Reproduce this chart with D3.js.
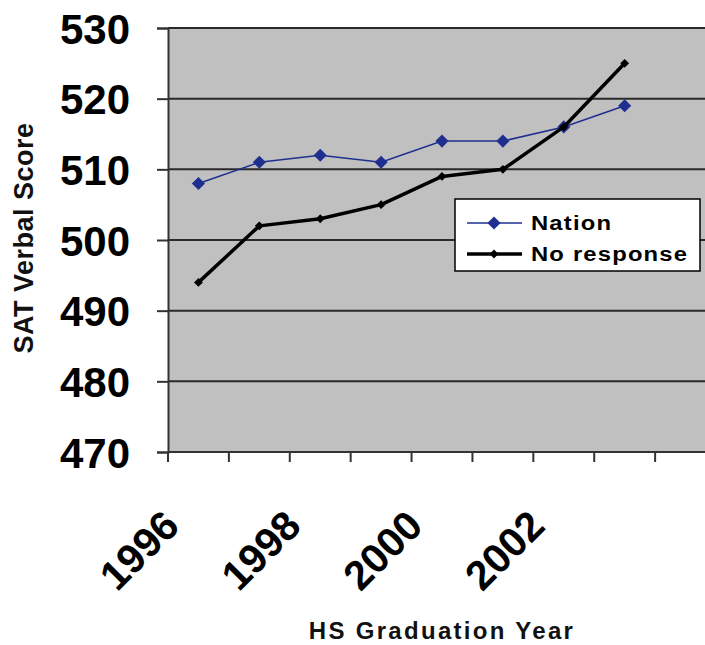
<!DOCTYPE html>
<html>
<head>
<meta charset="utf-8">
<script src="https://cdn.jsdelivr.net/npm/d3@7"></script>
<style>
  body { margin: 0; background: #fff; }
  text { font-family: "Liberation Sans", Arial, sans-serif; font-weight: bold; }
</style>
</head>
<body>
<svg id="svg"></svg>
<script>
// categories (last slot is empty, plot runs past the right edge)
var years = ["1996", "1997", "1998", "1999", "2000", "2001", "2002", "2003", "2004"];
var tickLabels = ["1996", "1998", "2000", "2002"];
var nation = [508, 511, 512, 511, 514, 514, 516, 519];
var noResponse = [494, 502, 503, 505, 509, 510, 516, 525];
var yTicks = [470, 480, 490, 500, 510, 520, 530];

var margin = {top: 28, left: 168};
var width = 548, height = 424;

var svg = d3.select("#svg").attr("width", 705).attr("height", 645);
var g = svg.append("g").attr("transform", `translate(${margin.left}, ${margin.top})`);

var xScale = d3.scaleBand().domain(years).range([0, width]);
var yScale = d3.scaleLinear().domain([470, 530]).range([height, 0]);
var cx = d => xScale(d) + xScale.bandwidth() / 2;

g.append("rect")
	.attr("width", width)
	.attr("height", height)
	.attr("fill", "#c0c0c0");

// gridlines
g.selectAll(".grid")
	.data(yTicks)
	.join("line")
	.attr("x1", 0)
	.attr("x2", width)
	.attr("y1", d => yScale(d))
	.attr("y2", d => yScale(d))
	.attr("stroke", "#2a2a2a")
	.attr("stroke-width", 2);

// y axis
var yAxis = g.append("g").call(d3.axisLeft(yScale).tickValues(yTicks).tickSize(11).tickPadding(27).tickFormat(d3.format("d")));
yAxis.select(".domain").attr("stroke", "#333").attr("stroke-width", 2);
yAxis.selectAll(".tick line").attr("stroke", "#333").attr("stroke-width", 2);
yAxis.selectAll("text").attr("font-size", 42).attr("fill", "#000").attr("dy", "0.36em")
	.attr("font-family", "Liberation Sans, Arial").attr("font-weight", "bold");

// x axis ticks at category boundaries
var xAxis = g.append("g").attr("transform", `translate(0, ${height})`);
xAxis.append("line").attr("x1", 0).attr("x2", width).attr("stroke", "#333").attr("stroke-width", 2);
xAxis.selectAll(".xt")
	.data(years)
	.join("line")
	.attr("x1", d => xScale(d))
	.attr("x2", d => xScale(d))
	.attr("y1", 0)
	.attr("y2", 10)
	.attr("stroke", "#333")
	.attr("stroke-width", 2);
xAxis.selectAll(".xl")
	.data(tickLabels)
	.join("text")
	.attr("transform", d => `translate(${cx(d) - 17}, 76) rotate(-45)`)
	.attr("text-anchor", "end")
	.attr("font-size", 41)
	.attr("fill", "#000")
	.text(d => d);

var line = d3.line()
	.x((d, i) => cx(years[i]))
	.y(d => yScale(d));

// Nation series
g.append("path")
	.attr("d", line(nation))
	.attr("fill", "none")
	.attr("stroke", "#1f2f8f")
	.attr("stroke-width", 1.5);
g.selectAll(".nm")
	.data(nation)
	.join("path")
	.attr("d", d3.symbol(d3.symbolDiamond2, 110))
	.attr("transform", (d, i) => `translate(${cx(years[i])}, ${yScale(d)})`)
	.attr("fill", "#1f2f8f");

// No response series
g.append("path")
	.attr("d", line(noResponse))
	.attr("fill", "none")
	.attr("stroke", "#000")
	.attr("stroke-width", 3.5)
	.attr("stroke-linejoin", "round");
g.selectAll(".rm")
	.data(noResponse)
	.join("path")
	.attr("d", d3.symbol(d3.symbolDiamond2, 50))
	.attr("transform", (d, i) => `translate(${cx(years[i])}, ${yScale(d)})`)
	.attr("fill", "#000");

// legend
var legend = svg.append("g").attr("transform", "translate(455, 199)");
legend.append("rect")
	.attr("width", 245)
	.attr("height", 72)
	.attr("fill", "#fff")
	.attr("stroke", "#000")
	.attr("stroke-width", 1.5);
var items = [
	{name: "Nation", color: "#1f2f8f", w: 1.5, size: 110},
	{name: "No response", color: "#000", w: 3.5, size: 50}
];
items.forEach((it, i) => {
	var y = 24 + i * 31;
	legend.append("line").attr("x1", 12).attr("x2", 67).attr("y1", y).attr("y2", y)
		.attr("stroke", it.color).attr("stroke-width", it.w);
	legend.append("path").attr("d", d3.symbol(d3.symbolDiamond2, it.size))
		.attr("transform", `translate(39, ${y})`).attr("fill", it.color);
	// legend font in the original is wide and heavy
	legend.append("text")
		.attr("transform", `translate(76, ${y}) scale(1.19, 1)`)
		.attr("dy", "0.36em")
		.attr("font-family", "DejaVu Sans").attr("font-size", 20)
		.attr("letter-spacing", 1)
		.attr("fill", "#000").text(it.name);
});

// axis titles
svg.append("text")
	.attr("transform", "translate(33, 238) rotate(-90)")
	.attr("text-anchor", "middle")
	.attr("font-size", 27)
	.attr("letter-spacing", 0.5)
	.attr("fill", "#111")
	.text("SAT Verbal Score");
svg.append("text")
	.attr("x", 442)
	.attr("y", 639)
	.attr("text-anchor", "middle")
	.attr("font-size", 24)
	.attr("letter-spacing", 2.3)
	.attr("fill", "#111")
	.text("HS Graduation Year");
</script>
</body>
</html>
